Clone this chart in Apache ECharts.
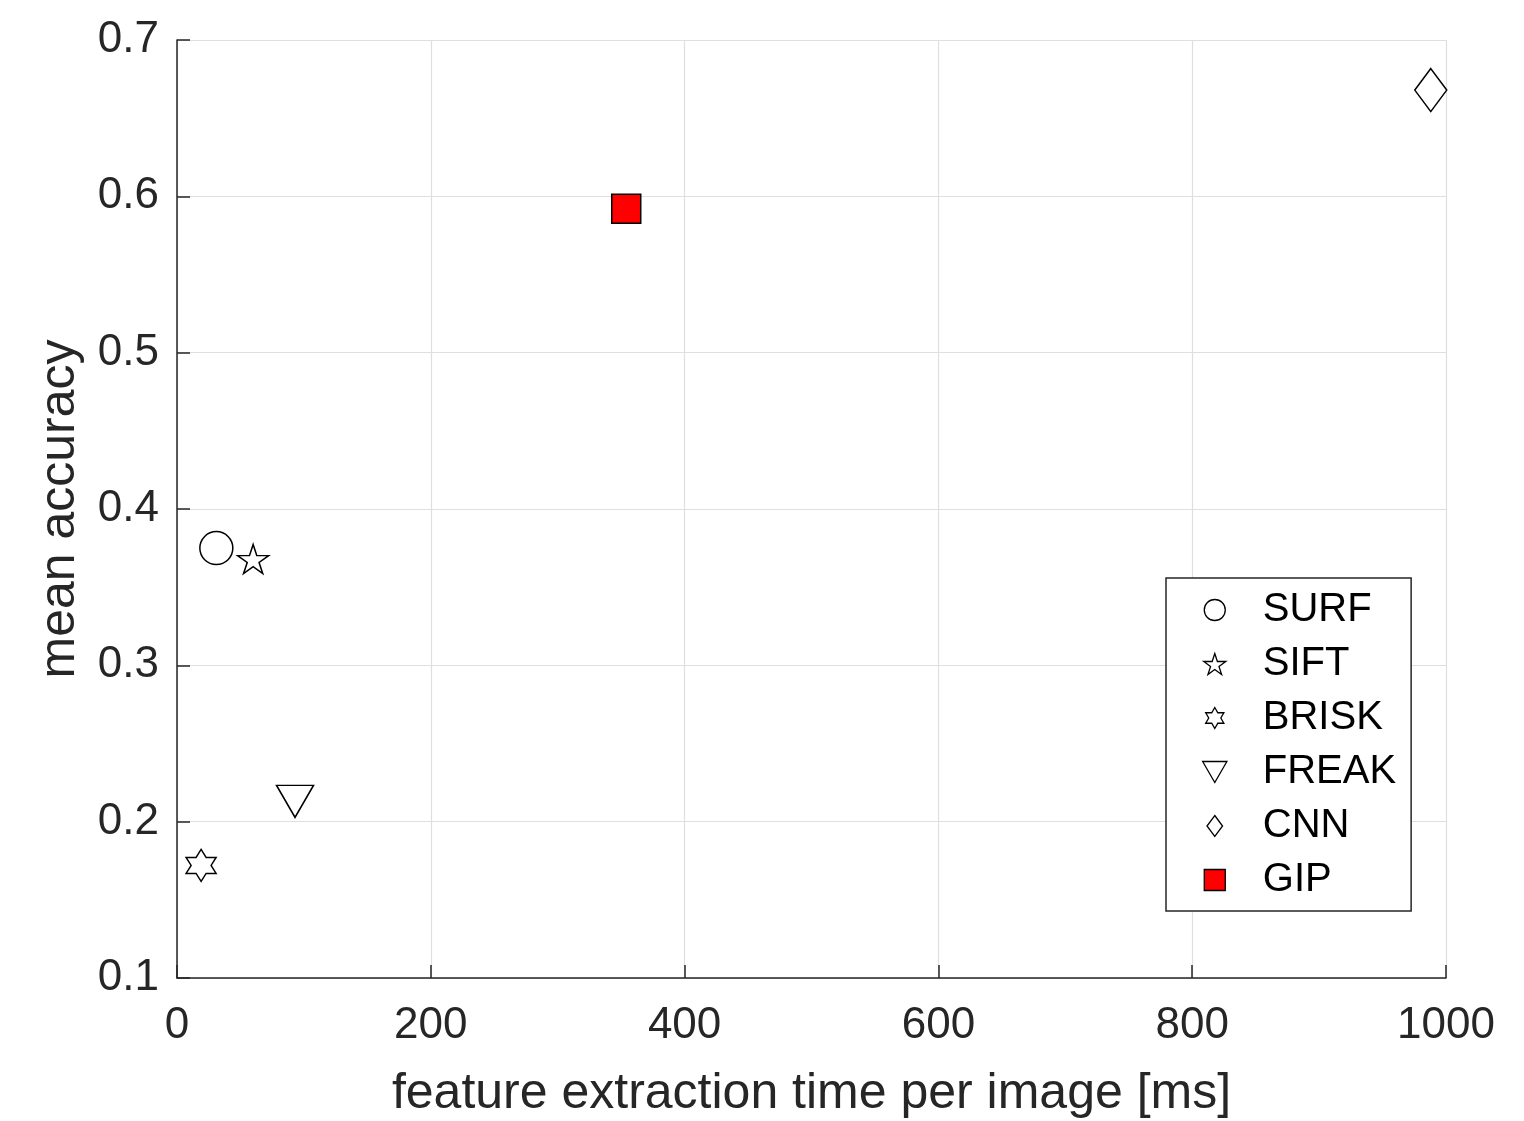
<!DOCTYPE html>
<html>
<head>
<meta charset="utf-8">
<script src="https://cdn.jsdelivr.net/npm/echarts@6/dist/echarts.min.js"></script>
<style>
html,body{margin:0;padding:0;background:#fff;}
#chart{width:1524px;height:1121px;}
</style>
</head>
<body>
<div id="chart"></div>
<script>
// ---- data ----
const methods = ['SURF', 'SIFT', 'BRISK', 'FREAK', 'CNN', 'GIP'];
const extractionTimeMs = [31, 60, 19, 93, 988, 354];
const meanAccuracy = [0.375, 0.368, 0.172, 0.213, 0.668, 0.592];
const xTicks = [0, 200, 400, 600, 800, 1000];
const yTicks = [0.1, 0.2, 0.3, 0.4, 0.5, 0.6, 0.7];

// ---- marker shapes ----
const STAR5 = 'path://M0 -1 L0.225 -0.309 L0.951 -0.309 L0.363 0.118 L0.588 0.809 L0 0.382 L-0.588 0.809 L-0.363 0.118 L-0.951 -0.309 L-0.225 -0.309 Z';
const STAR6 = 'path://M0 -1 L0.289 -0.5 L0.866 -0.5 L0.577 0 L0.866 0.5 L0.289 0.5 L0 1 L-0.289 0.5 L-0.866 0.5 L-0.577 0 L-0.866 -0.5 L-0.289 -0.5 Z';
const TRI_DOWN = 'path://M-1 0 L1 0 L0 1.732 Z';
const DIAMOND = 'path://M0 -1.35 L1 0 L0 1.35 L-1 0 Z';
const SQUARE = 'path://M0 0 L1 0 L1 1 L0 1 Z';

const markerStyle = {
  SURF:  { symbol: 'circle', size: 33, legendIcon: 'circle', fill: '#ffffff' },
  SIFT:  { symbol: STAR5, size: [31, 29], legendIcon: STAR5, fill: '#ffffff' },
  BRISK: { symbol: STAR6, size: [30, 32], legendIcon: STAR6, fill: '#ffffff' },
  FREAK: { symbol: TRI_DOWN, size: [37, 32], legendIcon: TRI_DOWN, fill: '#ffffff' },
  CNN:   { symbol: DIAMOND, size: [32, 43], legendIcon: DIAMOND, fill: '#ffffff' },
  GIP:   { symbol: SQUARE, size: [29, 29], legendIcon: SQUARE, fill: '#ff0000' }
};

const FONT = 'Liberation Sans, Arial, Helvetica, sans-serif';
const AXIS_COLOR = '#262626';
const GRID_COLOR = '#dfdfdf';

const series = methods.map((m, i) => ({
  name: m,
  type: 'scatter',
  symbol: markerStyle[m].symbol,
  symbolSize: markerStyle[m].size,
  itemStyle: { color: markerStyle[m].fill, borderColor: '#000000', borderWidth: 1.5, opacity: 1 },
  emphasis: { disabled: true },
  data: [[extractionTimeMs[i], meanAccuracy[i]]],
  z: 5
}));

const chart = echarts.init(document.getElementById('chart'), null, { renderer: 'canvas' });
chart.setOption({
  animation: false,
  backgroundColor: '#ffffff',
  grid: { left: 177, top: 40, width: 1269, height: 938, containLabel: false, outerBoundsMode: 'none' },
  xAxis: {
    type: 'value',
    min: xTicks[0], max: xTicks[xTicks.length - 1], interval: 200,
    name: 'feature extraction time per image [ms]',
    nameLocation: 'middle', nameGap: 91,
    nameTextStyle: { fontFamily: FONT, fontSize: 50, color: AXIS_COLOR },
    axisLine: { show: true, lineStyle: { color: AXIS_COLOR, width: 1.5 } },
    axisTick: { show: true, inside: true, length: 13, lineStyle: { color: AXIS_COLOR, width: 1.5 } },
    axisLabel: { fontFamily: FONT, fontSize: 44, color: AXIS_COLOR, margin: 26,
      formatter: v => String(v) },
    splitLine: { show: true, lineStyle: { color: GRID_COLOR, width: 1.2 } }
  },
  yAxis: {
    type: 'value',
    min: yTicks[0], max: yTicks[yTicks.length - 1], interval: 0.1,
    name: 'mean accuracy',
    nameLocation: 'middle', nameGap: 92,
    nameTextStyle: { fontFamily: FONT, fontSize: 50, color: AXIS_COLOR },
    axisLine: { show: true, onZero: false, lineStyle: { color: AXIS_COLOR, width: 1.5 } },
    axisTick: { show: true, inside: true, length: 13, lineStyle: { color: AXIS_COLOR, width: 1.5 } },
    axisLabel: { fontFamily: FONT, fontSize: 44, color: AXIS_COLOR, margin: 18,
      padding: [6, 0, 0, 0],
      formatter: v => v.toFixed(1) },
    splitLine: { show: true, lineStyle: { color: GRID_COLOR, width: 1.2 } }
  },
  legend: {
    orient: 'vertical',
    left: 1166, top: 578,
    padding: [10, 15, 9, 36],
    backgroundColor: '#ffffff',
    borderColor: AXIS_COLOR, borderWidth: 1.5,
    itemWidth: 86, itemHeight: 21, itemGap: 10,
    symbolKeepAspect: true,
    selectedMode: false,
    textStyle: { fontFamily: FONT, fontSize: 40, color: '#000000', lineHeight: 44 },
    data: methods.map(m => ({ name: m, icon: markerStyle[m].legendIcon,
      itemStyle: { color: markerStyle[m].fill, borderColor: '#000000', borderWidth: 1.3 } }))
  },
  series: series
});
</script>
</body>
</html>
